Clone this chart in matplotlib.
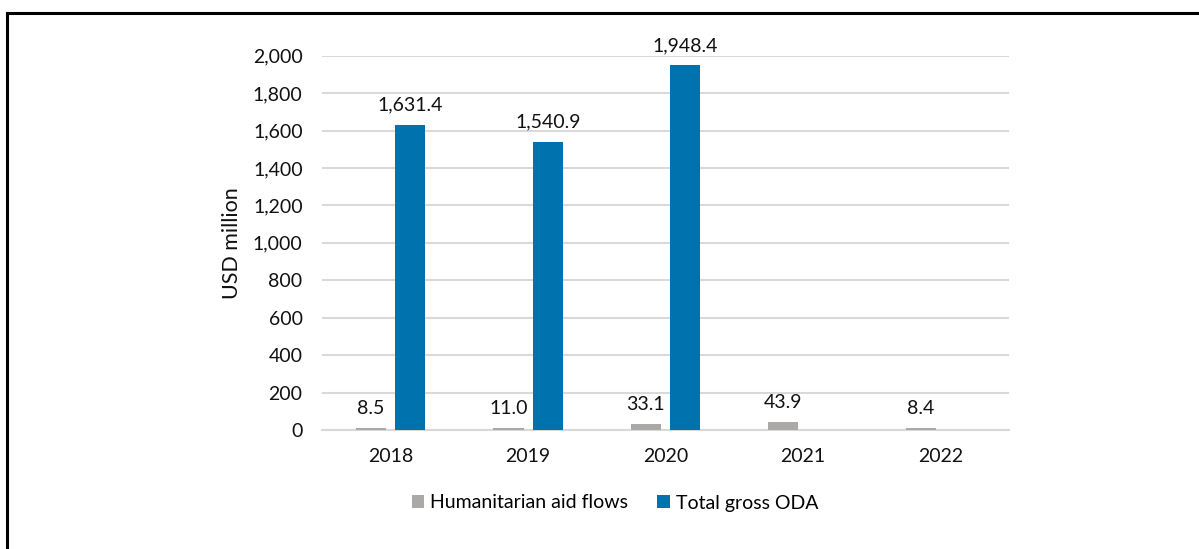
import matplotlib.pyplot as plt
import numpy as np
from matplotlib.lines import Line2D

plt.rcParams['font.family'] = ['Lato', 'DejaVu Sans']

years = ['2018', '2019', '2020', '2021', '2022']
humanitarian = [8.5, 11.0, 33.1, 43.9, 8.4]
total_oda = [1631.4, 1540.9, 1948.4, np.nan, np.nan]

gray = '#ABA8A8'
blue = '#0072AE'
txt = '#111111'

fig = plt.figure(figsize=(11.99, 5.49), dpi=100)
ax = fig.add_axes([0.2686, 0.2168, 0.5729, 0.6817])

x = np.arange(len(years))
w = 0.22
off = 0.143

b1 = ax.bar(x - off, humanitarian, w, color=gray, label='Humanitarian aid flows', zorder=3)
b2 = ax.bar(x + off, total_oda, w, color=blue, label='Total gross ODA', zorder=3)

for xi, v in zip(x, humanitarian):
    ax.annotate(f'{v:,.1f}', (xi - off, v), xytext=(0, 8), textcoords='offset points',
                ha='center', va='bottom', fontsize=14, color=txt)
for xi, v in zip(x, total_oda):
    if np.isnan(v):
        continue
    ax.annotate(f'{v:,.1f}', (xi + off, v), xytext=(0, 8), textcoords='offset points',
                ha='center', va='bottom', fontsize=14, color=txt)

ax.set_xlim(-0.5, len(years) - 0.5)
ax.set_ylim(0, 2000)
ax.set_yticks(np.arange(0, 2001, 200))
ax.set_yticklabels([f'{v:,}' for v in range(0, 2001, 200)])
ax.set_xticks(x)
ax.set_xticklabels(years)
ax.tick_params(axis='both', length=0, labelsize=14, colors=txt)
ax.tick_params(axis='y', pad=14)
ax.tick_params(axis='x', pad=13)
ax.grid(axis='y', color='#D9D9D9', linewidth=1.5, zorder=0)
for s in ['top', 'right', 'left']:
    ax.spines[s].set_visible(False)
ax.spines['bottom'].set_color('#D9D9D9')
ax.spines['bottom'].set_linewidth(1.5)
ax.set_ylabel('USD million', fontsize=15.5, color=txt, labelpad=8)

fig.legend(handles=[b1, b2], loc='center', bbox_to_anchor=(0.513, 1 - 503 / 549), ncol=2,
           frameon=False, fontsize=14, handlelength=0.65, handleheight=0.65,
           handletextpad=0.3, columnspacing=1.5)

# partial frame around the chart (top and left edges)
fig.add_artist(Line2D([7 / 1199, 1], [1 - 13 / 549, 1 - 13 / 549], color='black', linewidth=2.2,
                      transform=fig.transFigure))
fig.add_artist(Line2D([7 / 1199, 7 / 1199], [0, 1 - 13 / 549], color='black', linewidth=2.2,
                      transform=fig.transFigure))

fig.savefig('out.png', dpi=100)
